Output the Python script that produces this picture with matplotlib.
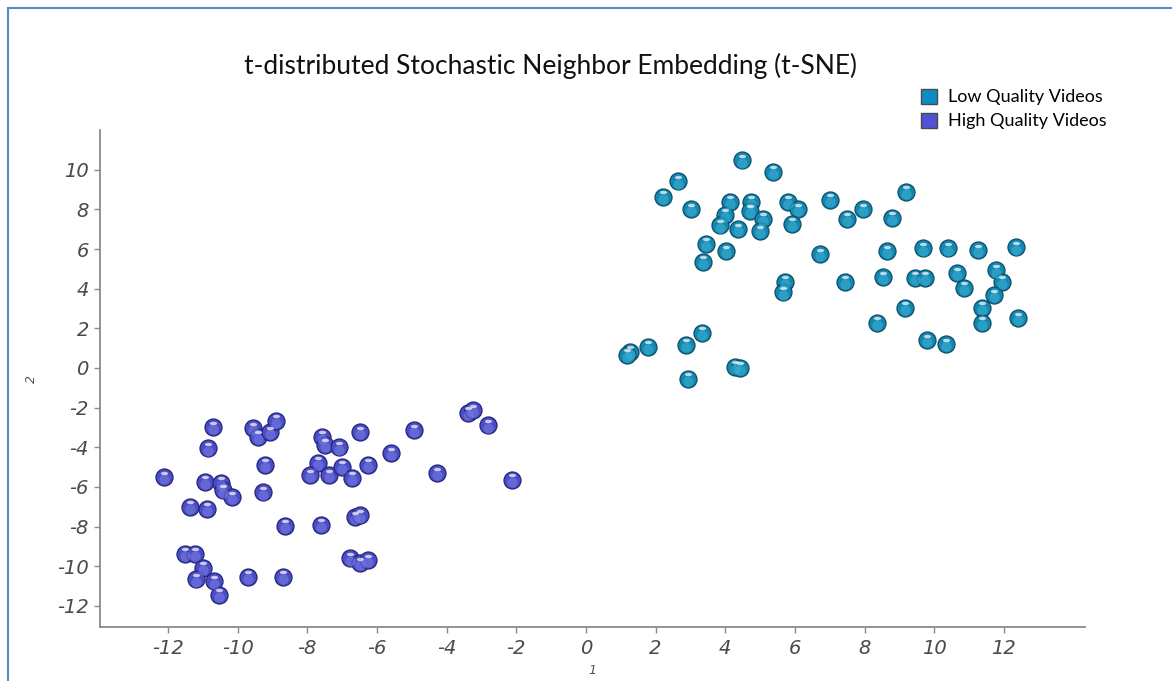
import matplotlib.pyplot as plt
from matplotlib.markers import MarkerStyle
from matplotlib.patches import Patch, Rectangle
from matplotlib.transforms import Affine2D, ScaledTranslation

# t-SNE coordinates, low quality videos
low_x = [4.48, 5.37, 2.64, 2.21, 3.01, 4.13, 4.74, 4.71, 3.99, 3.85, 4.36, 5.08,
         5.00, 5.80, 6.09, 5.91, 7.01, 3.45, 4.02, 3.36, 6.72, 9.19, 7.95, 7.49,
         8.79, 8.64, 9.68, 10.39, 11.25, 12.35, 5.71, 5.66, 3.33, 2.87, 1.78, 1.26,
         1.18, 2.93, 4.28, 4.42, 7.44, 8.53, 9.45, 9.73, 10.65, 10.85, 11.77, 11.94,
         11.71, 9.16, 8.35, 11.37, 11.37, 12.40, 9.79, 10.34]
low_y = [10.49, 9.89, 9.43, 8.63, 8.02, 8.38, 8.38, 7.92, 7.72, 7.21, 7.01, 7.52,
         6.91, 8.38, 8.02, 7.27, 8.48, 6.26, 5.90, 5.35, 5.75, 8.88, 8.02, 7.52,
         7.57, 5.90, 6.05, 6.05, 5.95, 6.10, 4.34, 3.83, 1.77, 1.16, 1.06, 0.81,
         0.66, -0.55, 0.05, 0.00, 4.34, 4.59, 4.54, 4.54, 4.79, 4.04, 4.94, 4.34,
         3.68, 3.03, 2.27, 3.03, 2.27, 2.52, 1.41, 1.21]

# t-SNE coordinates, high quality videos
high_x = [-12.12, -10.71, -10.85, -10.94, -10.48, -10.42, -10.16, -11.37, -10.88,
          -11.51, -11.23, -11.00, -11.20, -10.68, -10.54, -9.70, -8.70, -9.56,
          -9.42, -9.07, -8.90, -9.22, -9.27, -8.64, -7.61, -7.58, -7.49, -7.09,
          -7.69, -7.92, -7.38, -7.01, -6.72, -6.26, -6.49, -5.60, -4.94, -4.28,
          -3.39, -3.24, -2.81, -2.12, -6.63, -6.49, -6.78, -6.49, -6.26]
high_y = [-5.50, -2.98, -4.04, -5.75, -5.80, -6.16, -6.51, -7.01, -7.11,
          -9.38, -9.38, -10.09, -10.65, -10.75, -11.45, -10.54, -10.54, -3.03,
          -3.48, -3.23, -2.67, -4.89, -6.26, -7.97, -7.92, -3.48, -3.88, -3.99,
          -4.79, -5.40, -5.40, -4.99, -5.55, -4.89, -3.23, -4.29, -3.13, -5.30,
          -2.27, -2.12, -2.88, -5.65, -7.52, -7.42, -9.59, -9.84, -9.69]

x_ticks = [-12, -10, -8, -6, -4, -2, 0, 2, 4, 6, 8, 10, 12]
y_ticks = [10, 8, 6, 4, 2, 0, -2, -4, -6, -8, -10, -12]

title_font = ['Lato', 'DejaVu Sans']

fig = plt.figure(figsize=(11.72, 6.81), dpi=100)
ax = fig.add_axes([0.0853, 0.0793, 0.8405, 0.7297])


def beads(x, y, base, dark, light):
    # glassy bead look: body, lower glow, specular spot
    ax.scatter(x, y, s=150, c=base, edgecolors=dark, linewidths=0.9, zorder=3)
    down = ax.transData + ScaledTranslation(0, -1.8 / 72, fig.dpi_scale_trans)
    ax.scatter(x, y, s=55, c=light, alpha=0.55, linewidths=0, zorder=4,
               transform=down)
    up = ax.transData + ScaledTranslation(0, 3.2 / 72, fig.dpi_scale_trans)
    spot = MarkerStyle('o', transform=Affine2D().scale(1.5, 0.7))
    ax.scatter(x, y, s=12, marker=spot, c='white', alpha=0.7, linewidths=0,
               zorder=5, transform=up)


beads(low_x, low_y, '#1486b0', '#0b4d68', '#3fb3d8')
beads(high_x, high_y, '#4a4dc4', '#23247a', '#7a7de6')

ax.set_xlim(-13.95, 14.33)
ax.set_ylim(-13.07, 12.0)
ax.set_xticks(x_ticks)
ax.set_xticklabels([str(t) for t in x_ticks], fontstyle='italic')
ax.set_yticks(y_ticks)
ax.set_yticklabels([str(t) for t in y_ticks], fontstyle='italic')
ax.tick_params(direction='out', length=4, width=1, color='#8a8a8a',
               labelsize=14, labelcolor='#4a4a4a')
ax.tick_params(axis='x', pad=5)
ax.tick_params(axis='y', pad=4)
for side in ['top', 'right']:
    ax.spines[side].set_visible(False)
for side in ['left', 'bottom']:
    ax.spines[side].set_color('#8a8a8a')
    ax.spines[side].set_linewidth(1.3)

ax.set_xlabel('1', fontsize=9, fontstyle='italic', color='#555555', labelpad=4)
ax.set_ylabel('2', fontsize=9, fontstyle='italic', color='#555555', labelpad=14)

fig.text(551 / 1172, 1 - 66 / 681,
         't-distributed Stochastic Neighbor Embedding (t-SNE)',
         ha='center', va='center', fontsize=19, family=title_font, color='#111111')

handles = [Patch(facecolor='#0e8cc4', edgecolor='#4a4a4a', label='Low Quality Videos'),
           Patch(facecolor='#5151d6', edgecolor='#4a4a4a', label='High Quality Videos')]
fig.legend(handles=handles, loc='upper left', bbox_to_anchor=(917 / 1172, 1 - 85 / 681),
           frameon=False, handlelength=0.9, handleheight=0.9, handletextpad=0.6,
           labelspacing=0.4, borderaxespad=0, borderpad=0.2,
           prop={'family': title_font, 'size': 13})

# frame around the figure, cut off at the right and bottom
fig.add_artist(Rectangle((8 / 1172, -0.2), 1.2, 1.2 - 8 / 681,
                         transform=fig.transFigure, fill=False,
                         edgecolor='#5a88c8', linewidth=1.5))

fig.savefig('out.png', dpi=100)
